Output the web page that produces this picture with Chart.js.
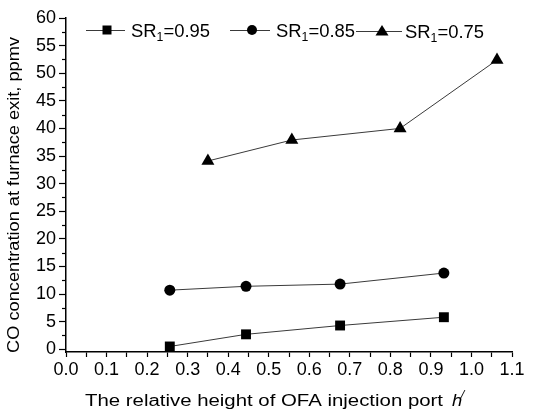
<!DOCTYPE html>
<html>
<head>
<meta charset="utf-8">
<script src="https://cdn.jsdelivr.net/npm/chart.js@4/dist/chart.umd.min.js"></script>
<style>
  html, body { margin: 0; padding: 0; background: #fff; }
</style>
</head>
<body>
<canvas id="coChart" width="534" height="418"></canvas>
<script>
// data
const xSR095 = [0.256, 0.444, 0.676, 0.932];
const ySR095 = [0.5, 2.7, 4.3, 5.8];
const xSR085 = [0.256, 0.444, 0.676, 0.932];
const ySR085 = [10.7, 11.4, 11.8, 13.8];
const xSR075 = [0.35, 0.557, 0.824, 1.063];
const ySR075 = [34.1, 37.9, 40.0, 52.4];
const seriesNames = ['0.95', '0.85', '0.75'];
const xTickLabels = ['0.0', '0.1', '0.2', '0.3', '0.4', '0.5', '0.6', '0.7', '0.8', '0.9', '1.0', '1.1'];
const yTickLabels = ['0', '5', '10', '15', '20', '25', '30', '35', '40', '45', '50', '55', '60'];

const FONT = '"Liberation Sans", Arial, Helvetica, sans-serif';
const LINE = '#3a3a3a';

function pts(xs, ys) {
    return xs.map((x, i) => ({ x: x, y: ys[i] }));
}

function series(xs, ys, style, radius) {
    return {
        data: pts(xs, ys),
        showLine: true,
        borderColor: LINE,
        borderWidth: 1,
        pointStyle: style,
        pointRadius: radius,
        pointBackgroundColor: '#000',
        pointBorderColor: '#000',
        pointBorderWidth: 0
    };
}

// draw text runs (for subscripts / italics) stretched horizontally
function drawRuns(ctx, runs, x, y, sx) {
    ctx.save();
    ctx.translate(x, y);
    ctx.scale(sx, 1);
    let cx = 0;
    runs.forEach(r => {
        ctx.font = r.font;
        ctx.fillText(r.text, cx, r.dy || 0);
        cx += ctx.measureText(r.text).width;
    });
    ctx.restore();
}

function runsWidth(ctx, runs) {
    let w = 0;
    runs.forEach(r => { ctx.font = r.font; w += ctx.measureText(r.text).width; });
    return w;
}

function marker(ctx, style, x, y) {
    ctx.fillStyle = '#000';
    ctx.beginPath();
    if (style === 'rect') {
        ctx.rect(x - 4.5, y - 4.5, 9, 9);
    } else if (style === 'circle') {
        ctx.arc(x, y, 5, 0, Math.PI * 2);
    } else {
        ctx.moveTo(x, y - 6);
        ctx.lineTo(x + 6.5, y + 4.5);
        ctx.lineTo(x - 6.5, y + 4.5);
        ctx.closePath();
    }
    ctx.fill();
}

const decor = {
    id: 'decor',
    afterDraw(chart) {
        const ctx = chart.ctx;
        const area = chart.chartArea;
        const yScale = chart.scales.y;

        // minor ticks on y
        ctx.save();
        ctx.strokeStyle = '#000';
        ctx.lineWidth = 1.2;
        for (let i = 0; i < yTickLabels.length - 1; i++) {
            const v = (parseFloat(yTickLabels[i]) + parseFloat(yTickLabels[i + 1])) / 2;
            const py = Math.round(yScale.getPixelForValue(v)) + 0.5;
            ctx.beginPath();
            ctx.moveTo(area.left - 4, py);
            ctx.lineTo(area.left, py);
            ctx.stroke();
        }
        ctx.restore();

        // legend
        const styles = ['rect', 'circle', 'triangle'];
        const items = [
            { x0: 86, x1: 125, mx: 107, tx: 131, y: 30 },
            { x0: 230, x1: 270, mx: 252, tx: 276, y: 30 },
            { x0: 356, x1: 402, mx: 382, tx: 405, y: 31 }
        ];
        ctx.save();
        items.forEach((it, i) => {
            ctx.strokeStyle = LINE;
            ctx.lineWidth = 1;
            ctx.beginPath();
            ctx.moveTo(it.x0, it.y + 0.5);
            ctx.lineTo(it.x1, it.y + 0.5);
            ctx.stroke();
            marker(ctx, styles[i], it.mx, it.y);
            ctx.fillStyle = '#000';
            ctx.textBaseline = 'alphabetic';
            const runs = [
                { text: 'SR', font: '18px ' + FONT },
                { text: '1', font: '12px ' + FONT, dy: 4 },
                { text: '=' + seriesNames[i], font: '18px ' + FONT }
            ];
            drawRuns(ctx, runs, it.tx, it.y + 6.5, 79 / runsWidth(ctx, runs));
        });

        // x axis title
        ctx.fillStyle = '#000';
        const xr = [{ text: 'The relative height of OFA injection port', font: '16px ' + FONT }];
        drawRuns(ctx, xr, 85, 406, 358 / runsWidth(ctx, xr));
        drawRuns(ctx, [{ text: 'h', font: 'italic 16px ' + FONT }], 452, 406, 1.15);
        drawRuns(ctx, [{ text: '/', font: 'italic 11px ' + FONT }], 461, 398, 1.1);

        // y axis title
        ctx.save();
        ctx.translate(19, 353);
        ctx.rotate(-Math.PI / 2);
        const yr = [{ text: 'CO concentration at furnace exit, ppmv', font: '16px ' + FONT }];
        drawRuns(ctx, yr, 0, 0, 316 / runsWidth(ctx, yr));
        ctx.restore();
        ctx.restore();
    }
};

const ctx = document.getElementById('coChart').getContext('2d');
const coChart = new Chart(ctx, {
    type: 'scatter',
    data: {
        datasets: [
            series(xSR095, ySR095, 'rect', 7),
            series(xSR085, ySR085, 'circle', 5.5),
            series(xSR075, ySR075, 'triangle', 7.5)
        ]
    },
    options: {
        responsive: false,
        animation: false,
        layout: { padding: { top: 18, right: 22, left: 0, bottom: 0 } },
        plugins: { legend: { display: false }, tooltip: { enabled: false } },
        scales: {
            x: {
                type: 'linear',
                min: 0,
                max: 1.1,
                afterFit: s => { s.height = 66; },
                afterBuildTicks: s => {
                    const t = [];
                    xTickLabels.forEach((l, i) => {
                        t.push({ value: parseFloat(l) });
                        if (i < xTickLabels.length - 1) t.push({ value: parseFloat(l) + 0.05 });
                    });
                    s.ticks = t;
                },
                grid: { drawOnChartArea: false, tickLength: 5, tickColor: '#000', tickWidth: 1.2 },
                border: { color: '#000', width: 1.5 },
                ticks: {
                    autoSkip: false,
                    maxRotation: 0,
                    padding: 2,
                    color: '#000',
                    font: { family: FONT, size: 18 },
                    callback: (v, i) => (i % 2 === 0 ? xTickLabels[i / 2] : '')
                }
            },
            y: {
                type: 'linear',
                min: -0.5,
                max: 60,
                afterFit: s => { s.width = 66; },
                afterBuildTicks: s => {
                    s.ticks = yTickLabels.map(l => ({ value: parseFloat(l) }));
                },
                grid: { drawOnChartArea: false, tickLength: 7, tickColor: '#000', tickWidth: 1.2 },
                border: { color: '#000', width: 1.5 },
                ticks: {
                    autoSkip: false,
                    padding: 3,
                    color: '#000',
                    font: { family: FONT, size: 18 },
                    callback: (v, i) => yTickLabels[i]
                }
            }
        }
    },
    plugins: [decor]
});
</script>
</body>
</html>
